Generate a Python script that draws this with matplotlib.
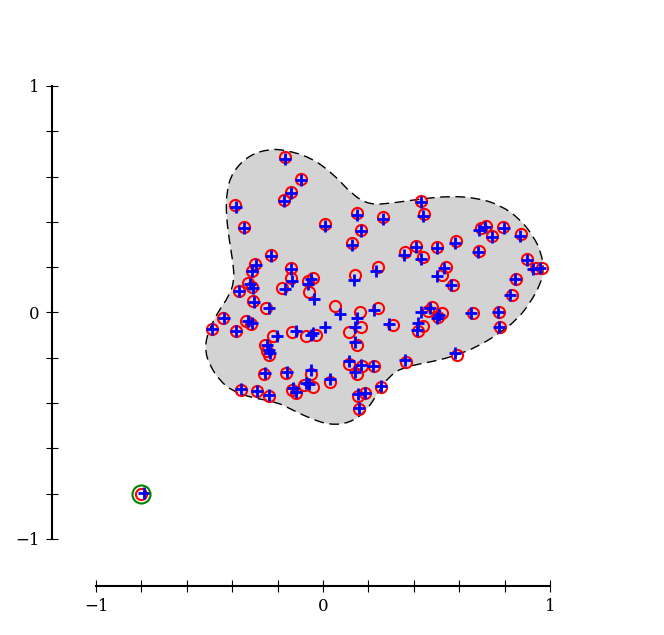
import numpy as np
import matplotlib
matplotlib.use("Agg")
import matplotlib.pyplot as plt
from matplotlib.path import Path
from matplotlib.patches import PathPatch

plt.rcParams['font.family'] = ['DejaVu Serif']

# red circles (original points)
cx = [-0.166, -0.095, -0.139, -0.170, -0.386, -0.347, 0.011, 0.148, 0.166, 0.126,
      -0.227, -0.298, -0.311, -0.139, -0.139, -0.329, -0.311, -0.369, -0.179, -0.068,
      -0.046, -0.060, -0.307, -0.249, -0.439, -0.338, -0.316, -0.488, -0.382, -0.219,
      -0.135, -0.073, 0.360, 0.241, 0.139, 0.055, 0.161, 0.241, 0.307, 0.166,
      0.113, 0.148, -0.029, 0.444, 0.430, 0.717, 0.695, 0.792, 0.744, 0.872,
      0.408, 0.439, 0.501, 0.585, 0.687, 0.898, 0.541, 0.523, 0.572, 0.850,
      0.832, 0.479, 0.461, 0.523, 0.506, 0.660, 0.775, 0.439, 0.417, 0.779,
      0.263, 0.938, 0.965, 0.113, 0.170, 0.223, 0.148, 0.364, 0.589, 0.254,
      0.152, 0.183, 0.157, 0.033, -0.055, -0.082, -0.046, -0.254, -0.245, -0.236,
      -0.258, -0.161, -0.360, -0.289, -0.236, -0.135, -0.117, -0.801]
cy = [0.687, 0.589, 0.532, 0.497, 0.475, 0.377, 0.391, 0.439, 0.364, 0.307,
      0.254, 0.214, 0.183, 0.196, 0.152, 0.130, 0.113, 0.095, 0.108, 0.139,
      0.152, 0.091, 0.051, 0.020, -0.024, -0.038, -0.051, -0.073, -0.082, -0.104,
      -0.086, -0.104, 0.267, 0.201, 0.166, 0.029, 0.002, 0.020, -0.055, -0.064,
      -0.086, -0.143, -0.099, 0.435, 0.492, 0.382, 0.373, 0.377, 0.338, 0.347,
      0.294, 0.245, 0.289, 0.316, 0.272, 0.236, 0.201, 0.166, 0.121, 0.148,
      0.077, 0.024, 0.007, -0.002, -0.020, -0.002, 0.002, -0.060, -0.082, -0.064,
      0.422, 0.196, 0.196, -0.227, -0.236, -0.236, -0.272, -0.219, -0.188, -0.329,
      -0.369, -0.355, -0.426, -0.307, -0.272, -0.320, -0.329, -0.143, -0.170, -0.188,
      -0.272, -0.267, -0.342, -0.347, -0.369, -0.342, -0.355, -0.801]

# blue crosses (perturbed points)
px = [-0.166, -0.095, -0.143, -0.170, -0.382, -0.347, 0.007, 0.148, 0.166, 0.126,
      -0.227, -0.294, -0.311, -0.139, -0.135, -0.320, -0.307, -0.369, -0.166, -0.064,
      -0.051, -0.038, -0.302, -0.236, -0.435, -0.329, -0.311, -0.488, -0.382, -0.201,
      -0.117, -0.055, 0.355, 0.232, 0.135, 0.073, 0.148, 0.223, 0.289, 0.139,
      0.011, 0.139, -0.042, 0.439, 0.430, 0.713, 0.687, 0.797, 0.744, 0.868,
      0.408, 0.430, 0.501, 0.581, 0.682, 0.898, 0.532, 0.501, 0.563, 0.845,
      0.823, 0.470, 0.430, 0.510, 0.501, 0.651, 0.770, 0.417, 0.413, 0.775,
      0.263, 0.925, 0.956, 0.113, 0.166, 0.219, 0.143, 0.360, 0.581, 0.254,
      0.152, 0.183, 0.157, 0.033, -0.055, -0.077, -0.060, -0.245, -0.236, -0.232,
      -0.254, -0.157, -0.360, -0.289, -0.236, -0.130, -0.121, -0.790]
py = [0.678, 0.585, 0.528, 0.492, 0.466, 0.373, 0.382, 0.430, 0.360, 0.298,
      0.249, 0.210, 0.183, 0.192, 0.139, 0.126, 0.108, 0.095, 0.104, 0.126,
      0.148, 0.060, 0.046, 0.020, -0.024, -0.038, -0.046, -0.073, -0.082, -0.104,
      -0.082, -0.099, 0.254, 0.183, 0.143, -0.007, -0.024, 0.011, -0.051, -0.064,
      -0.064, -0.130, -0.091, 0.426, 0.488, 0.377, 0.364, 0.373, 0.333, 0.338,
      0.289, 0.236, 0.285, 0.307, 0.267, 0.232, 0.196, 0.161, 0.121, 0.148,
      0.077, 0.020, 0.002, -0.011, -0.024, -0.002, 0.002, -0.046, -0.077, -0.064,
      0.413, 0.192, 0.196, -0.214, -0.232, -0.236, -0.263, -0.210, -0.179, -0.325,
      -0.360, -0.355, -0.422, -0.294, -0.254, -0.311, -0.316, -0.143, -0.166, -0.179,
      -0.267, -0.263, -0.338, -0.347, -0.364, -0.333, -0.351, -0.797]

# highlighted outlier
ox = [-0.8]
oy = [-0.8]

# outline of the shaded region (control points)
bx = [-0.236, -0.166, -0.060, 0.042, 0.130, 0.205, 0.307, 0.426, 0.558, 0.678,
      0.779, 0.868, 0.929, 0.960, 0.974, 0.956, 0.912, 0.854, 0.766, 0.678,
      0.589, 0.514, 0.426, 0.347, 0.294, 0.249, 0.192, 0.117, 0.029, -0.060,
      -0.135, -0.205, -0.311, -0.400, -0.457, -0.497, -0.519, -0.514, -0.492, -0.457,
      -0.417, -0.391, -0.395, -0.413, -0.426, -0.426, -0.400, -0.325]
by = [0.722, 0.717, 0.687, 0.616, 0.519, 0.475, 0.483, 0.501, 0.514, 0.506,
      0.475, 0.413, 0.333, 0.267, 0.188, 0.121, 0.042, -0.033, -0.099, -0.152,
      -0.188, -0.210, -0.227, -0.245, -0.280, -0.342, -0.435, -0.488, -0.497, -0.466,
      -0.430, -0.395, -0.377, -0.347, -0.298, -0.236, -0.174, -0.113, -0.055, 0.011,
      0.068, 0.135, 0.210, 0.320, 0.426, 0.528, 0.620, 0.695]

fig = plt.figure(figsize=(6.64, 6.35), dpi=100)
ax = fig.add_axes([0.1446, 0.1512, 0.6837, 0.7134])

# smooth closed curve: quadratic bezier through midpoints
pts = np.column_stack([bx, by])
n = len(pts)
mids = (pts + np.roll(pts, -1, axis=0)) / 2
verts = [mids[-1]]
codes = [Path.MOVETO]
for i in range(n):
    verts += [pts[i], mids[i]]
    codes += [Path.CURVE3, Path.CURVE3]
verts.append(mids[-1])
codes.append(Path.CLOSEPOLY)
path = Path(verts, codes)
ax.add_patch(PathPatch(path, facecolor='lightgray', edgecolor='none', zorder=1))
ax.add_patch(PathPatch(path, facecolor='none', edgecolor='black', lw=1.0,
                       linestyle=(0, (7, 4)), zorder=2))

ax.plot(cx, cy, 'o', mfc='none', mec='r', ms=8, mew=1.5, zorder=3)
ax.plot(px, py, '+', color='b', ms=8, mew=2, zorder=4)
ax.plot(ox, oy, 'o', mfc='none', mec='g', ms=13, mew=1.5, zorder=5)

ax.set_xlim(-1, 1)
ax.set_ylim(-1, 1)
ticks = np.linspace(-1, 1, 11)
labels = ['\u22121', '', '', '', '', '0', '', '', '', '', '1']
ax.set_xticks(ticks)
ax.set_xticklabels(labels)
ax.set_yticks(ticks)
ax.set_yticklabels(labels)

for s in ['top', 'right']:
    ax.spines[s].set_visible(False)
ax.spines['left'].set_position(('outward', 32))
ax.spines['bottom'].set_position(('outward', 34))
for s in ['left', 'bottom']:
    ax.spines[s].set_bounds(-1, 1)
    ax.spines[s].set_linewidth(1.5)
ax.tick_params(direction='inout', length=9, width=0.8, labelsize=12, pad=4)
ax.patch.set_alpha(0)

fig.savefig('out.png', dpi=100)
